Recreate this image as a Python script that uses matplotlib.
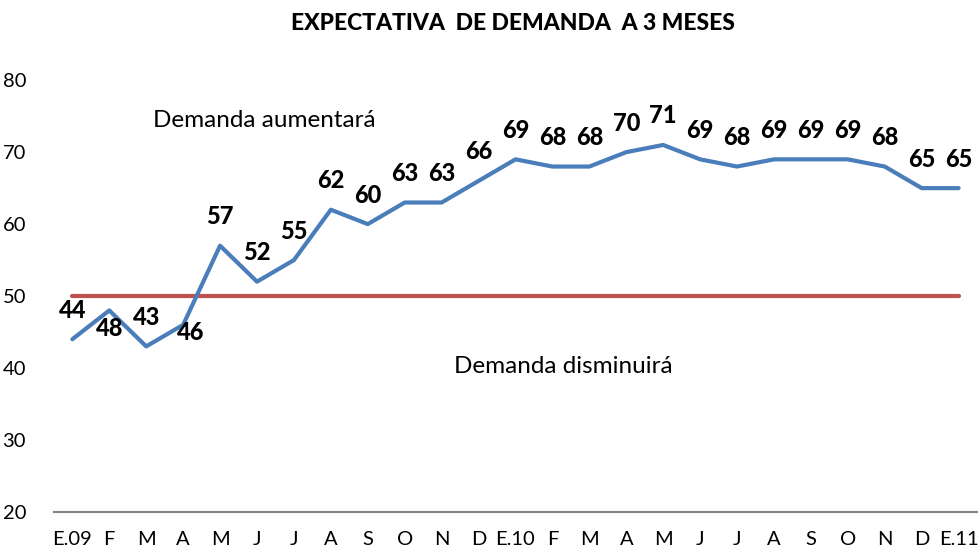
import numpy as np
import matplotlib.pyplot as plt

plt.rcParams['font.family'] = ['Lato', 'DejaVu Sans']

# data
meses = ['E.09', 'F', 'M', 'A', 'M', 'J', 'J', 'A', 'S', 'O', 'N', 'D',
         'E.10', 'F', 'M', 'A', 'M', 'J', 'J', 'A', 'S', 'O', 'N', 'D', 'E.11']
demanda = [44, 48, 43, 46, 57, 52, 55, 62, 60, 63, 63, 66,
           69, 68, 68, 70, 71, 69, 68, 69, 69, 69, 68, 65, 65]
umbral = [50] * len(meses)

x = np.arange(len(meses))

fig = plt.figure(figsize=(9.8, 5.57), dpi=100)
ax = fig.add_axes([0.055, 0.081, 0.942, 0.775])

ax.plot(x, umbral, color='#C0504D', lw=3, solid_capstyle='round')
ax.plot(x, demanda, color='#4A7EBB', lw=3, solid_capstyle='round')

# data labels (a couple sit below the line)
offsets = {1: (0, -18), 3: (7, -8)}
for i, v in enumerate(demanda):
    dx, dy = offsets.get(i, (0, 29))
    ax.annotate(str(v), (x[i], v), xytext=(dx, dy), textcoords='offset pixels',
                ha='center', va='center', fontsize=17, fontweight='black')

ax.text(5.2, 74.4, 'Demanda aumentará', ha='center', va='center', fontsize=17.5)
ax.text(13.3, 40.2, 'Demanda disminuirá', ha='center', va='center', fontsize=17.5)

ax.set_xlim(-0.5, len(meses) - 0.5)
ax.set_ylim(20, 80)
ax.set_yticks(np.arange(20, 81, 10))
ax.set_xticks(x)
ax.set_xticklabels(meses)
ax.tick_params(axis='both', length=0, labelsize=14.5)
ax.tick_params(axis='x', pad=14)
ax.tick_params(axis='y', pad=20)

for s in ['top', 'right', 'left']:
    ax.spines[s].set_visible(False)
ax.spines['bottom'].set_color('#868686')
ax.spines['bottom'].set_linewidth(1.5)

fig.text(0.523, 0.958, 'EXPECTATIVA  DE DEMANDA  A 3 MESES', ha='center', va='center',
         fontsize=16.5, fontweight='black')

fig.savefig('out.png', dpi=100)
